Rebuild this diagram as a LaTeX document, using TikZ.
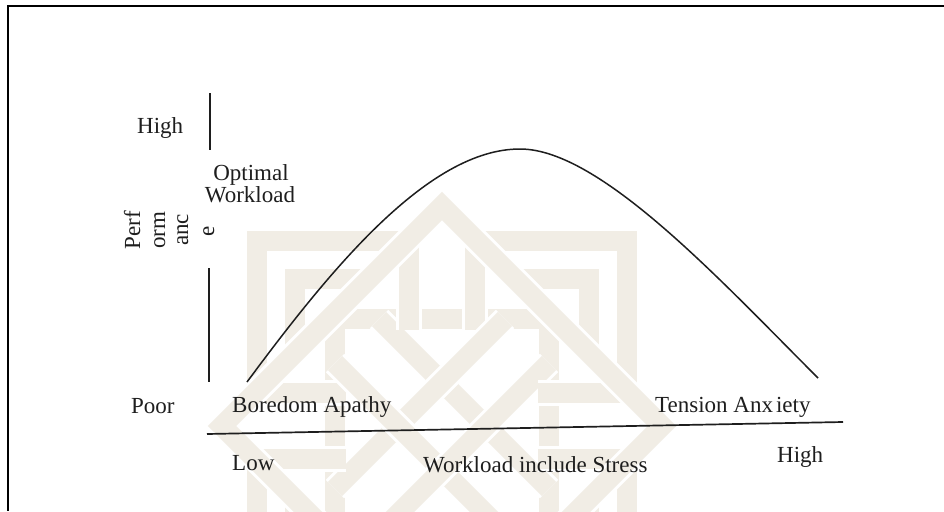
\documentclass[tikz,border=0pt]{standalone}
\usepackage{fontspec}
\setmainfont{Liberation Serif}
\definecolor{wm}{RGB}{241,237,229}
\definecolor{ink}{RGB}{30,30,30}
\begin{document}
\begin{tikzpicture}[x=1pt,y=-1pt,
  lbl/.style={font=\fontsize{23}{26}\selectfont, inner sep=0pt, text=ink},
  band/.style={line width=3pt, draw=white, double=wm, double distance=20pt,
               line cap=butt, line join=miter},
  axisline/.style={line width=1.7pt, draw=ink},
  frameline/.style={line width=2.4pt, draw=black},
]
\useasboundingbox (0,0) rectangle (944,511);
\fill[white] (0,0) rectangle (944,511);

% faint interlaced emblem in the background
\begin{scope}
  \clip (9,7) rectangle (944,511);
  \begin{scope}[shift={(442,426)}]
    \draw[band] (-107,-107) rectangle (107,107);
    \foreach \a in {0,90,180,270} {
      \begin{scope}[rotate=\a]
        \draw[band] (-63,-107) -- (107,63);
        \draw[band] (-33,-187) -- (-33,-96);
        \draw[band] (33,-187) -- (33,-96);
        \draw[band] (-75,-147) -- (-147,-147) -- (-147,-75);
        \draw[band] (-35,-185) -- (-185,-185) -- (-185,-35);
      \end{scope}
    }
    \draw[band] (0,-220) -- (220,0) -- (0,220) -- (-220,0) -- cycle;
  \end{scope}
\end{scope}

% page frame
\coordinate (fTL) at (8,6);
\coordinate (fTR) at (944,6);
\coordinate (fBL) at (8,511);
\draw[frameline] (fTR) -- (fTL) -- (fBL);

% axes
\coordinate (yTop) at (210,93);
\coordinate (yTopEnd) at (210,150);
\coordinate (yLow) at (209,268);
\coordinate (yLowEnd) at (209,382);
\coordinate (xLeft) at (207,434);
\coordinate (xRight) at (843,422);
\draw[axisline] (yTop) -- (yTopEnd);
\draw[axisline] (yLow) -- (yLowEnd);
\draw[axisline] (xLeft) -- (xRight);

% performance curve: rise from boredom, peak, fall into anxiety
\coordinate (cStart) at (247,382);
\coordinate (cPeak) at (520,149);
\coordinate (cEnd) at (818,378);
\draw[line width=1.5pt, draw=ink]
  (cStart) .. controls (330,270) and (428,149) .. (cPeak)
           .. controls (600,149) and (720,280) .. (cEnd);

% labels
\node[lbl, anchor=base west] (hiY) at (137,133) {High};
\node[lbl, anchor=base] (opt1) at (251,180) {Optimal};
\node[lbl, anchor=base] (opt2) at (250,202) {Workload};
\node[lbl, anchor=base, rotate=90] (perf1) at (140,230) {Perf};
\node[lbl, anchor=base, rotate=90] (perf2) at (165,230) {orm};
\node[lbl, anchor=base, rotate=90] (perf3) at (188,230) {anc};
\node[lbl, anchor=base, rotate=90] (perf4) at (214,231) {e};
\node[lbl, anchor=base west] (poor) at (131,413) {Poor};
\node[lbl, anchor=base west] (bored) at (232,412) {Boredom Apathy};
\node[lbl, anchor=base west] (tens) at (655,412) {Tension Anx\hspace{3pt}iety};
\node[lbl, anchor=base west] (low) at (232,470) {Low};
\node[lbl, anchor=base west] (wl) at (423,472) {Workload include Stress};
\node[lbl, anchor=base west] (hiX) at (777,462) {High};
\end{tikzpicture}
\end{document}
